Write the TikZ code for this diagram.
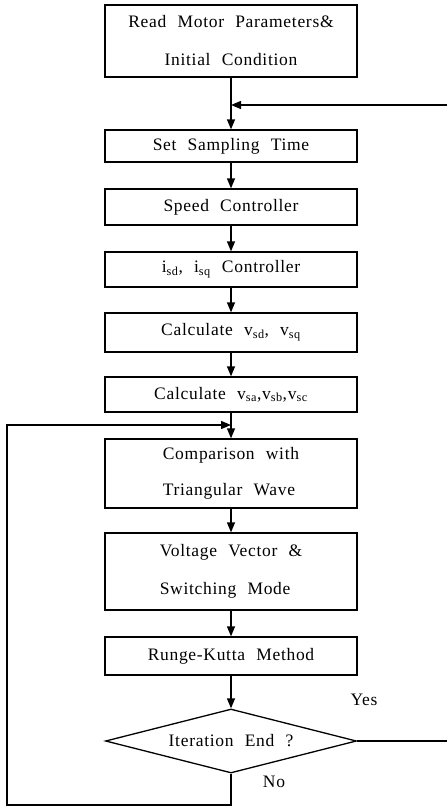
\documentclass[tikz,border=0pt]{standalone}
\usepackage{fontspec}
\setmainfont{Liberation Serif}[LetterSpace=4,WordSpace=2.2]
\usetikzlibrary{arrows.meta,shapes.geometric}
\begin{document}
\begin{tikzpicture}[x=1pt,y=-1pt,
  line width=1.3pt,
  every node/.style={font=\fontsize{17.5}{20}\selectfont},
  procbox/.style={draw,rectangle,minimum width=252pt,inner sep=0pt,align=center},
  twoline/.style={procbox,align=left},
  decision/.style={draw,diamond,minimum width=251pt,minimum height=64pt,inner sep=0pt,aspect=4},
  flow/.style={-{Triangle[length=10pt,width=8pt]}},
  lbl/.style={inner sep=0pt}
]
\useasboundingbox (0,0) rectangle (447,808);

\node[procbox,minimum height=72pt] (b1) at (231,41) {Read Motor Parameters\&\\[18pt]Initial Condition};
\node[procbox,minimum height=32pt] (b2) at (231,146) {Set Sampling Time};
\node[procbox,minimum height=36pt] (b3) at (231,207) {Speed Controller};
\node[procbox,minimum height=35pt] (b4) at (231,269.5) {i\textsubscript{sd}, i\textsubscript{sq} Controller};
\node[procbox,minimum height=39pt] (b5) at (231,332.5) {Calculate v\textsubscript{sd}, v\textsubscript{sq}};
\node[procbox,minimum height=35pt] (b6) at (231,394.5) {Calculate v\textsubscript{sa},v\textsubscript{sb},v\textsubscript{sc}};
\node[twoline,minimum height=69pt] (b7) at (231,473.5) {Comparison with\\[16pt]Triangular Wave};
\node[twoline,minimum height=77pt] (b8) at (231,571.5) {Voltage Vector \&\\[18pt]Switching Mode};
\node[procbox,minimum height=38pt] (b9) at (231,656) {Runge-Kutta Method};
\node[decision] (d) at (231,741) {Iteration End ?};

\node[lbl] (yes) at (364,700) {Yes};
\node[lbl] (no) at (274,782) {No};

\coordinate (rtop) at (447,105);
\coordinate (mtop) at (231,105);
\coordinate (ryes) at (447,741);
\coordinate (lb) at (7,805);
\coordinate (lt) at (7,425);
\coordinate (mloop) at (231,425);

\draw[flow] (b1.south) -- (b2.north);
\draw[flow] (rtop) -- (mtop);
\draw[flow] (b2.south) -- (b3.north);
\draw[flow] (b3.south) -- (b4.north);
\draw[flow] (b4.south) -- (b5.north);
\draw[flow] (b5.south) -- (b6.north);
\draw[flow] (b6.south) -- (b7.north);
\draw[flow] (b7.south) -- (b8.north);
\draw[flow] (b8.south) -- (b9.north);
\draw[flow] (b9.south) -- (d.north);
\draw (d.east) -- (ryes);
\draw[flow] (d.south) |- (lb) -- (lt) -- (mloop);
\end{tikzpicture}
\end{document}
